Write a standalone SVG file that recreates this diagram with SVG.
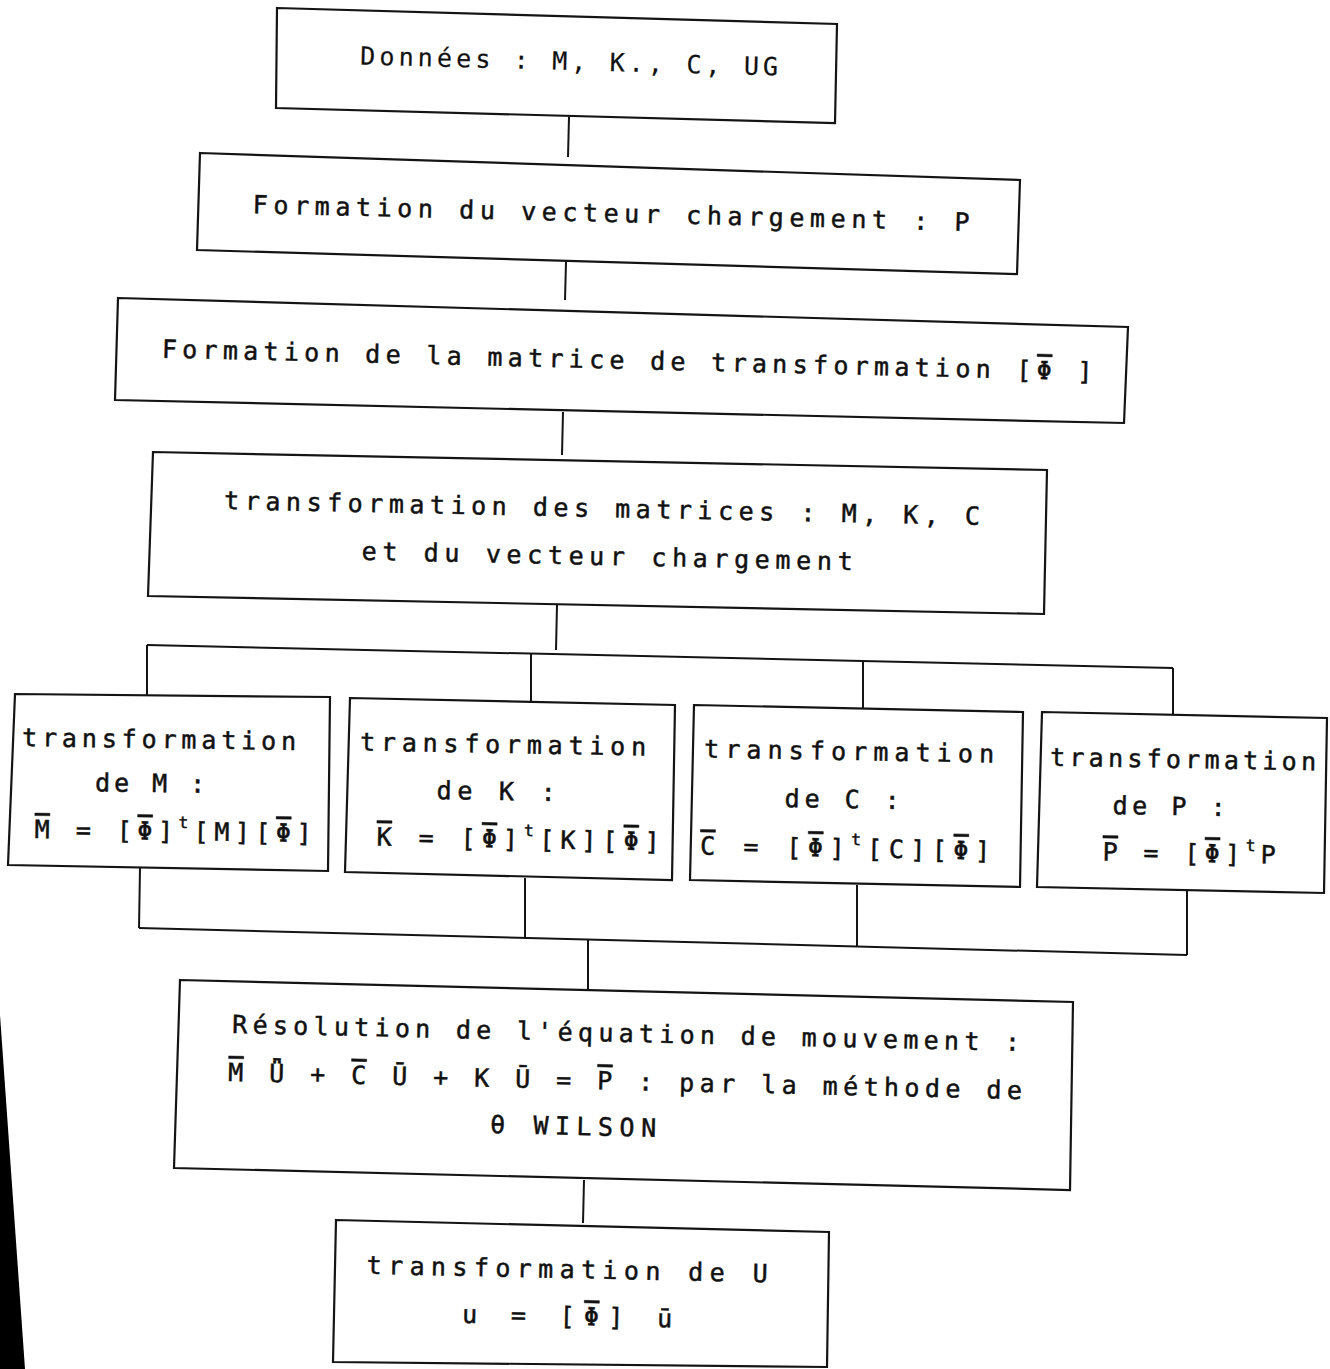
<svg xmlns="http://www.w3.org/2000/svg" width="1330" height="1369" viewBox="0 0 1330 1369">
<style>
.box{fill:#fff;stroke:#141414;stroke-width:2.2}
.ln{fill:none;stroke:#141414;stroke-width:2}
text{font-family:"DejaVu Sans Mono","Liberation Mono",monospace;font-size:25px;fill:#111;stroke:#111;stroke-width:0.5;text-anchor:middle}
.sup{font-size:16px}
.ov{text-decoration:overline}
</style>
<rect width="1330" height="1369" fill="#fff"/>
<polygon points="0,1015 25,1369 0,1369" fill="#000"/>
<g id="connectors">
<path class="ln" d="M569,117 L568,157"/>
<path class="ln" d="M566,262 L565,300"/>
<path class="ln" d="M563,412 L562,455"/>
<path class="ln" d="M557,605 L556,650"/>
<path class="ln" d="M147,645 L1173,668"/>
<path class="ln" d="M147,645 L147,695"/>
<path class="ln" d="M531,654 L531,701"/>
<path class="ln" d="M863,661 L863,708"/>
<path class="ln" d="M1173,668 L1173,715"/>
<path class="ln" d="M140,868 L139,928"/>
<path class="ln" d="M525,878 L525,937"/>
<path class="ln" d="M857,885 L857,946"/>
<path class="ln" d="M1187,891 L1187,955"/>
<path class="ln" d="M139,928 L1187,955"/>
<path class="ln" d="M588,940 L588,993"/>
<path class="ln" d="M584,1180 L583,1223"/>
</g>
<g id="n1">
<polygon class="box" points="277,8 837,24 835,123 276,108"/>
<text x="569" y="70" textLength="418" lengthAdjust="spacing" transform="rotate(1.5 569 70)" style="stroke-width:0.2">Données : M, K., C, UG</text>
</g>
<g id="n2">
<polygon class="box" points="200,153 1020,180 1017,274 197,250"/>
<text x="611" y="222" textLength="717" lengthAdjust="spacing" transform="rotate(1.4 611 222)">Formation du vecteur chargement : P</text>
</g>
<g id="n3">
<polygon class="box" points="118,298 1128,327 1124,423 115,400"/>
<text x="627" y="369" textLength="931" lengthAdjust="spacing" transform="rotate(1.4 627 369)">Formation de la matrice de transformation [<tspan class="ov">Φ</tspan> ]</text>
</g>
<g id="n4">
<polygon class="box" points="153,452 1047,470 1044,614 148,596"/>
<text x="602" y="517" textLength="756" lengthAdjust="spacing" transform="rotate(1.2 602 517)">transformation des matrices : M, K, C</text>
<text x="607" y="565" textLength="491" lengthAdjust="spacing" transform="rotate(1.2 607 565)">et du vecteur chargement</text>
</g>
<g id="nM">
<polygon class="box" points="15,694 330,697 328,871 8,865"/>
<text x="159" y="748" textLength="274" lengthAdjust="spacing" transform="rotate(0.8 159 748)">transformation</text>
<text x="150" y="792" textLength="110" lengthAdjust="spacing" transform="rotate(0.8 150 792)">de M :</text>
<text x="173" y="840" textLength="277" lengthAdjust="spacing" transform="rotate(0.8 173 840)"><tspan class="ov">M</tspan> = [<tspan class="ov">Φ</tspan>]<tspan class="sup" dy="-12">t</tspan><tspan dy="12">[M][</tspan><tspan class="ov">Φ</tspan>]</text>
</g>
<g id="nK">
<polygon class="box" points="350,698 675,705 672,880 345,872"/>
<text x="503" y="753" textLength="286" lengthAdjust="spacing" transform="rotate(1 503 753)">transformation</text>
<text x="496" y="800" textLength="119" lengthAdjust="spacing" transform="rotate(1 496 800)">de K :</text>
<text x="518" y="848" textLength="283" lengthAdjust="spacing" transform="rotate(1 518 848)"><tspan class="ov">K</tspan> = [<tspan class="ov">Φ</tspan>]<tspan class="sup" dy="-12">t</tspan><tspan dy="12">[K][</tspan><tspan class="ov">Φ</tspan>]</text>
</g>
<g id="nC">
<polygon class="box" points="694,705 1023,712 1020,887 690,880"/>
<text x="849" y="760" textLength="290" lengthAdjust="spacing" transform="rotate(1 849 760)">transformation</text>
<text x="842" y="808" textLength="115" lengthAdjust="spacing" transform="rotate(1 842 808)">de C :</text>
<text x="845" y="857" textLength="290" lengthAdjust="spacing" transform="rotate(1 845 857)"><tspan class="ov">C</tspan> = [<tspan class="ov">Φ</tspan>]<tspan class="sup" dy="-12">t</tspan><tspan dy="12">[C][</tspan><tspan class="ov">Φ</tspan>]</text>
</g>
<g id="nP">
<polygon class="box" points="1042,712 1327,718 1324,893 1037,887"/>
<text x="1183" y="768" textLength="266" lengthAdjust="spacing" transform="rotate(1 1183 768)">transformation</text>
<text x="1169" y="815" textLength="113" lengthAdjust="spacing" transform="rotate(1 1169 815)">de P :</text>
<text x="1189" y="862" textLength="173" lengthAdjust="spacing" transform="rotate(1 1189 862)"><tspan class="ov">P</tspan> = [<tspan class="ov">Φ</tspan>]<tspan class="sup" dy="-12">t</tspan><tspan dy="12">P</tspan></text>
</g>
<g id="n5">
<polygon class="box" points="180,980 1073,1002 1070,1190 174,1168"/>
<text x="626" y="1042" textLength="788" lengthAdjust="spacing" transform="rotate(1.3 626 1042)">Résolution de l'équation de mouvement :</text>
<text x="625" y="1090" textLength="794" lengthAdjust="spacing" transform="rotate(1.3 625 1090)"><tspan class="ov">M</tspan> Ǖ + <tspan class="ov">C</tspan> Ū + K Ū = <tspan class="ov">P</tspan> : par la méthode de</text>
<text x="573" y="1135" textLength="166" lengthAdjust="spacing" transform="rotate(1.3 573 1135)">θ WILSON</text>
</g>
<g id="n6">
<polygon class="box" points="336,1220 829,1232 827,1367 333,1362"/>
<text x="567" y="1278" textLength="401" lengthAdjust="spacing" transform="rotate(1.2 567 1278)">transformation de  U</text>
<text x="567" y="1325" textLength="210" lengthAdjust="spacing" transform="rotate(1.2 567 1325)">u  = [<tspan class="ov">Φ</tspan>] ū</text>
</g>
</svg>
